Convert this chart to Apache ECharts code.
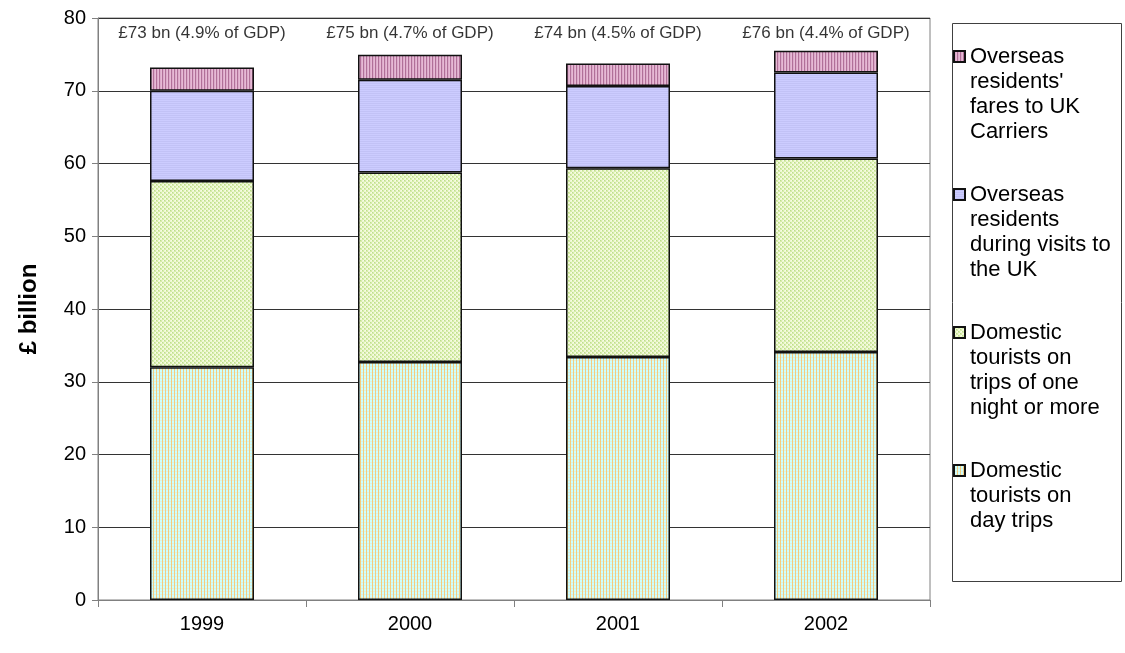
<!DOCTYPE html>
<html>
<head>
<meta charset="utf-8">
<script src="https://cdn.jsdelivr.net/npm/echarts@6/dist/echarts.min.js"></script>
<style>html,body{margin:0;padding:0;background:#fff;}#chart{width:1125px;height:653px;}</style>
</head>
<body>
<div id="chart"></div>
<script>
// ---- data ----
const categories = ['1999', '2000', '2001', '2002'];
const dayTrips   = [32.0, 32.7, 33.4, 34.1];
const overnight  = [25.6, 26.05, 25.95, 26.6];
const visits     = [12.4, 12.75, 11.3, 11.8];
const fares      = [3.2, 3.45, 3.1, 3.0];
const totalsBn   = [73, 75, 74, 76];
const gdpShare   = ['4.9', '4.7', '4.5', '4.4'];
const seriesNames = [
  'Domestic tourists on day trips',
  'Domestic tourists on trips of one night or more',
  'Overseas residents during visits to the UK',
  "Overseas residents' fares to UK Carriers"
];
const legendLines = {
  'Domestic tourists on day trips': ['Domestic', 'tourists on', 'day trips'],
  'Domestic tourists on trips of one night or more': ['Domestic', 'tourists on', 'trips of one', 'night or more'],
  'Overseas residents during visits to the UK': ['Overseas', 'residents', 'during visits to', 'the UK'],
  "Overseas residents' fares to UK Carriers": ['Overseas', "residents'", 'fares to UK', 'Carriers']
};

// ---- patterns ----
function makePattern(w, h, draw) {
  const c = document.createElement('canvas');
  c.width = w; c.height = h;
  const ctx = c.getContext('2d');
  draw(ctx);
  return { image: c, repeat: 'repeat' };
}
function px(ctx, x, y, col) { ctx.fillStyle = col; ctx.fillRect(x, y, 1, 1); }

const patDay = makePattern(3, 3, ctx => {
  ctx.fillStyle = '#CCFFFF'; ctx.fillRect(0, 0, 3, 3);
  for (let x = 1; x < 3; x++) px(ctx, x, 0, '#DDF2E0');
  for (let y = 0; y < 3; y++) px(ctx, 0, y, '#F2CC80');
});
const patNight = makePattern(4, 4, ctx => {
  ctx.fillStyle = '#EEF8D4'; ctx.fillRect(0, 0, 4, 4);
  ctx.fillStyle = '#D6ECA8'; ctx.fillRect(0, 0, 2, 2); ctx.fillRect(2, 2, 2, 2);
  px(ctx, 0, 0, '#BCDC90'); px(ctx, 2, 2, '#BCDC90');
  px(ctx, 3, 0, '#FAFCE8'); px(ctx, 1, 2, '#FAFCE8');
});
const patVisits = makePattern(2, 2, ctx => {
  ctx.fillStyle = '#CCCCFF'; ctx.fillRect(0, 0, 2, 2);
  ctx.fillStyle = '#C2C2F6'; ctx.fillRect(0, 1, 2, 1);
});
const patFares = makePattern(3, 2, ctx => {
  ctx.fillStyle = '#DDAACB'; ctx.fillRect(0, 0, 3, 2);
  ctx.fillStyle = '#B07098'; ctx.fillRect(0, 0, 1, 2);
  ctx.fillStyle = '#E6BAD4'; ctx.fillRect(2, 0, 1, 2);
});
const patterns = [patDay, patNight, patVisits, patFares];
const seriesData = [dayTrips, overnight, visits, fares];

const FONT = "'Liberation Sans', Arial, sans-serif";
const LABEL_Y = 77.9;

const barSeries = seriesNames.map((name, i) => ({
  name: name,
  type: 'bar',
  stack: 'total',
  barCategoryGap: '50%',
  data: seriesData[i],
  itemStyle: { color: patterns[i], borderColor: '#111', borderWidth: 1.5 },
  emphasis: { disabled: true },
  animation: false
}));

const labelSeries = {
  name: 'totals',
  type: 'scatter',
  data: categories.map(() => LABEL_Y),
  symbolSize: 1,
  itemStyle: { color: 'rgba(0,0,0,0)' },
  label: {
    show: true,
    position: 'inside',
    formatter: p => '£' + totalsBn[p.dataIndex] + ' bn (' + gdpShare[p.dataIndex] + '% of GDP)',
    fontFamily: FONT,
    fontSize: 17,
    color: '#000'
  },
  silent: true,
  animation: false
};

const chart = echarts.init(document.getElementById('chart'), null, { renderer: 'canvas' });
chart.setOption({
  backgroundColor: '#fff',
  animation: false,
  grid: {
    left: 98, right: 195, top: 18, bottom: 53,
    show: true, borderColor: '#808080', borderWidth: 1, backgroundColor: 'transparent'
  },
  xAxis: {
    type: 'category',
    data: categories,
    axisLine: { lineStyle: { color: '#808080', width: 1 } },
    axisTick: { show: true, length: 7, lineStyle: { color: '#808080' } },
    axisLabel: { color: '#000', fontFamily: FONT, fontSize: 20, margin: 14 },
    splitLine: { show: false }
  },
  yAxis: {
    type: 'value',
    min: 0, max: 80, interval: 10,
    name: '£ billion',
    nameLocation: 'middle',
    nameRotate: 90,
    nameGap: 57,
    nameTextStyle: { color: '#000', fontFamily: FONT, fontSize: 24, fontWeight: 'bold' },
    axisLine: { show: true, lineStyle: { color: '#808080', width: 1 } },
    axisTick: { show: true, length: 6, lineStyle: { color: '#808080' } },
    axisLabel: { color: '#000', fontFamily: FONT, fontSize: 20, margin: 12 },
    splitLine: { show: true, lineStyle: { color: '#333', width: 1 } }
  },
  legend: {
    data: seriesNames.slice().reverse(),
    orient: 'vertical',
    left: 953,
    top: -31,
    padding: 0,
    itemGap: -37,
    itemWidth: 11,
    itemHeight: 11,
    icon: 'rect',
    selectedMode: false,
    textStyle: { fontFamily: FONT, fontSize: 22, lineHeight: 25, color: '#000' },
    formatter: name => {
      const lines = legendLines[name].slice();
      while (lines.length < 4) lines.push('');
      return ['', '', ''].concat(lines).join('\n');
    }
  },
  graphic: [{
    type: 'rect',
    left: 952, top: 23,
    shape: { width: 169, height: 558 },
    style: { fill: 'transparent', stroke: '#404040', lineWidth: 1 },
    silent: true,
    z: -1
  }],
  series: barSeries.concat([labelSeries])
});
</script>
</body>
</html>
